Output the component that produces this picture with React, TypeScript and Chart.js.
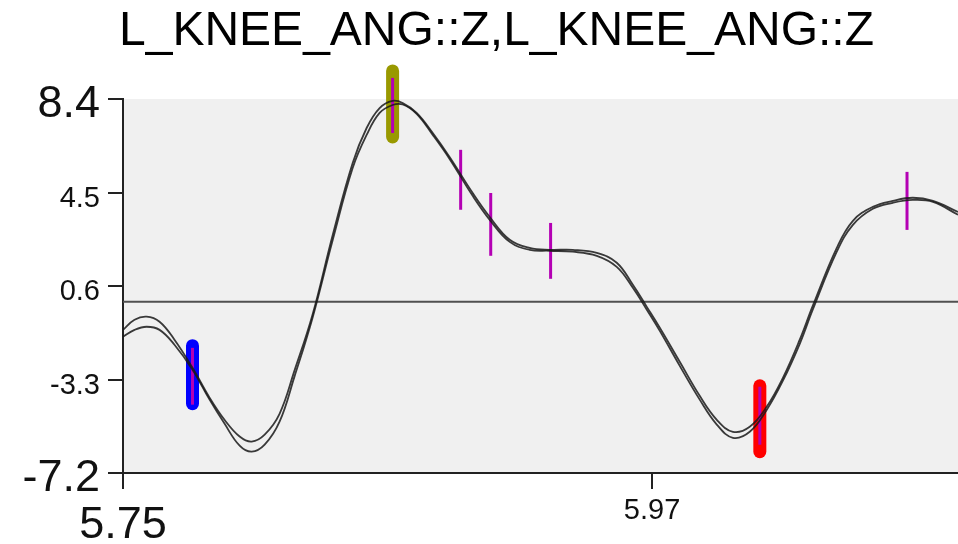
import React, { useEffect, useRef } from "react";
import { Chart, registerables } from "chart.js";

Chart.register(...registerables);

const TITLE = "L_KNEE_ANG::Z,L_KNEE_ANG::Z";

const X_MIN = 5.75;
const X_MAX = 6.0972;
const Y_MIN = -7.2;
const Y_MAX = 8.4;
const X_TICKS = [5.75, 5.97];
const Y_TICKS = [-7.2, -3.3, 0.6, 4.5, 8.4];
const BASELINE = -0.06;

const TIME = [
  5.75, 5.7548, 5.7598, 5.7652, 5.7714, 5.7789, 5.786, 5.7922, 5.7985, 5.8035,
  5.8089, 5.8151, 5.8213, 5.8288, 5.8372, 5.8455, 5.8513, 5.8567, 5.8621, 5.8663,
  5.8721, 5.8788, 5.8858, 5.8954, 5.9025, 5.9108, 5.9191, 5.9274, 5.937, 5.947,
  5.9553, 5.962, 5.9678, 5.9732, 5.9815, 5.9898, 5.9969, 6.0036, 6.0106, 6.0177,
  6.0244, 6.0314, 6.0368, 6.0468, 6.0535, 6.0618, 6.0701, 6.0784, 6.0868, 6.0972,
];

const SERIES_A = [
  -1.23, -0.81, -0.68, -0.89, -1.64, -2.81, -4.06, -4.98, -5.68, -5.89,
  -5.6, -4.73, -2.93, -0.6, 2.73, 5.73, 7.19, 8.02, 8.32, 8.23,
  7.82, 6.98, 5.98, 4.48, 3.48, 2.53, 2.19, 2.11, 2.11, 1.98,
  1.57, 0.65, -0.27, -1.14, -2.56, -3.98, -4.98, -5.48, -5.27, -4.43,
  -3.23, -1.64, -0.23, 2.19, 3.32, 3.9, 4.15, 4.28, 4.15, 3.69,
];

const SERIES_B = [
  -1.52, -1.23, -1.1, -1.23, -1.85, -2.89, -4.14, -5.14, -6.06, -6.31,
  -6.02, -5.06, -3.18, -0.73, 2.52, 5.52, 6.9, 7.82, 8.15, 8.17,
  7.78, 6.9, 5.9, 4.36, 3.36, 2.44, 2.11, 2.07, 2.03, 1.86,
  1.4, 0.53, -0.39, -1.27, -2.73, -4.14, -5.18, -5.73, -5.48, -4.56,
  -3.35, -1.81, -0.39, 2.03, 3.15, 3.82, 4.07, 4.19, 4.11, 3.57,
];

// thick event markers
const EVENT_X = [5.7789, 5.8621, 6.0148];
const EVENT_LO = [-4.31, 6.82, -6.31];
const EVENT_HI = [-1.89, 9.57, -3.56];
const EVENT_COLORS = ["#0000ff", "#999900", "#ff0000"];
const EVENT_INNER_LO = [-4.35, 6.98, -6.02];
const EVENT_INNER_HI = [-1.98, 9.28, -3.6];

// thin magenta markers
const MARK_X = [5.8904, 5.9029, 5.9278, 6.076];
const MARK_LO = [3.78, 1.86, 0.9, 2.94];
const MARK_HI = [6.28, 4.48, 3.23, 5.36];

const MAGENTA = "#b400b4";
const FONT = "'Liberation Sans', Arial, sans-serif";
const TITLE_LEFT_INSET = 35;

const bgPlugin = {
  id: "plotBg",
  afterLayout(chart: any) {
    if (chart.titleBlock) chart.titleBlock.left = TITLE_LEFT_INSET;
  },
  beforeDraw(chart: any) {
    const { ctx, chartArea } = chart;
    ctx.save();
    ctx.fillStyle = "#f0f0f0";
    ctx.fillRect(chartArea.left, chartArea.top, chartArea.right - chartArea.left, chartArea.bottom - chartArea.top);
    ctx.restore();
  },
};

export default function App() {
  const ref = useRef<HTMLCanvasElement>(null);

  useEffect(() => {
    if (!ref.current) return;
    const datasets: any[] = [];

    const curve = (vals: number[]) => ({
      type: "line",
      data: TIME.map((t, i) => ({ x: t, y: vals[i] })),
      borderColor: "rgba(25,25,25,0.85)",
      borderWidth: 1.8,
      pointRadius: 0,
      tension: 0.4,
      order: 0,
    });
    datasets.push(curve(SERIES_A));
    datasets.push(curve(SERIES_B));

    MARK_X.forEach((x, i) => {
      datasets.push({
        type: "line",
        data: [{ x, y: MARK_LO[i] }, { x, y: MARK_HI[i] }],
        borderColor: MAGENTA,
        borderWidth: 3,
        pointRadius: 0,
        clip: false,
        order: 1,
      });
    });
    EVENT_X.forEach((x, i) => {
      datasets.push({
        type: "line",
        data: [{ x, y: EVENT_INNER_LO[i] }, { x, y: EVENT_INNER_HI[i] }],
        borderColor: MAGENTA,
        borderWidth: 3,
        pointRadius: 0,
        clip: false,
        order: 1,
      });
      datasets.push({
        type: "line",
        data: [{ x, y: EVENT_LO[i] }, { x, y: EVENT_HI[i] }],
        borderColor: EVENT_COLORS[i],
        borderWidth: 13,
        borderCapStyle: "round",
        pointRadius: 0,
        clip: false,
        order: 2,
      });
    });
    datasets.push({
      type: "line",
      data: [{ x: X_MIN, y: BASELINE }, { x: X_MAX, y: BASELINE }],
      borderColor: "#505050",
      borderWidth: 2,
      pointRadius: 0,
      order: 3,
    });

    const isEnd = (ctx: any, n: number) => ctx.index === 0 || ctx.index === n - 1;

    const chart = new Chart(ref.current, {
      type: "line",
      data: { datasets },
      plugins: [bgPlugin],
      options: {
        animation: false,
        responsive: false,
        layout: { padding: 0 },
        plugins: {
          legend: { display: false },
          tooltip: { enabled: false },
          title: {
            display: true,
            text: TITLE,
            color: "#000",
            font: { family: FONT, size: 48, weight: "normal" },
            padding: { top: 3, bottom: 38.4 },
          },
        },
        scales: {
          x: {
            type: "linear",
            min: X_MIN,
            max: X_MAX,
            afterBuildTicks: (s: any) => {
              s.ticks = X_TICKS.map((v) => ({ value: v }));
            },
            afterFit: (s: any) => {
              s.height = 71;
            },
            grid: { drawOnChartArea: false, drawTicks: true, tickLength: 16, color: "#222", lineWidth: 2 },
            border: { display: true, color: "#222", width: 2 },
            ticks: {
              autoSkip: false,
              maxRotation: 0,
              padding: 5,
              color: "#111",
              callback: (v: any) => Number(v).toFixed(2),
              font: (ctx: any) =>
                ctx.index === 0
                  ? { family: FONT, size: 45, lineHeight: 1.4 }
                  : { family: FONT, size: 29, lineHeight: 1.2 },
            },
          },
          y: {
            type: "linear",
            min: Y_MIN,
            max: Y_MAX,
            afterBuildTicks: (s: any) => {
              s.ticks = Y_TICKS.map((v) => ({ value: v }));
            },
            afterFit: (s: any) => {
              s.width = 123;
            },
            grid: { drawOnChartArea: false, drawTicks: true, tickLength: 15, color: "#222", lineWidth: 2 },
            border: { display: true, color: "#222", width: 2 },
            ticks: {
              autoSkip: false,
              padding: 8,
              labelOffset: 6,
              color: "#111",
              callback: (v: any) => Number(v).toFixed(1),
              font: (ctx: any) =>
                isEnd(ctx, Y_TICKS.length)
                  ? { family: FONT, size: 45 }
                  : { family: FONT, size: 29 },
            },
          },
        },
      } as any,
    } as any);

    return () => chart.destroy();
  }, []);

  return (
    <canvas
      ref={ref}
      width={958}
      height={544}
      style={{ position: "absolute", left: 0, top: 0, width: 958, height: 544 }}
    />
  );
}
